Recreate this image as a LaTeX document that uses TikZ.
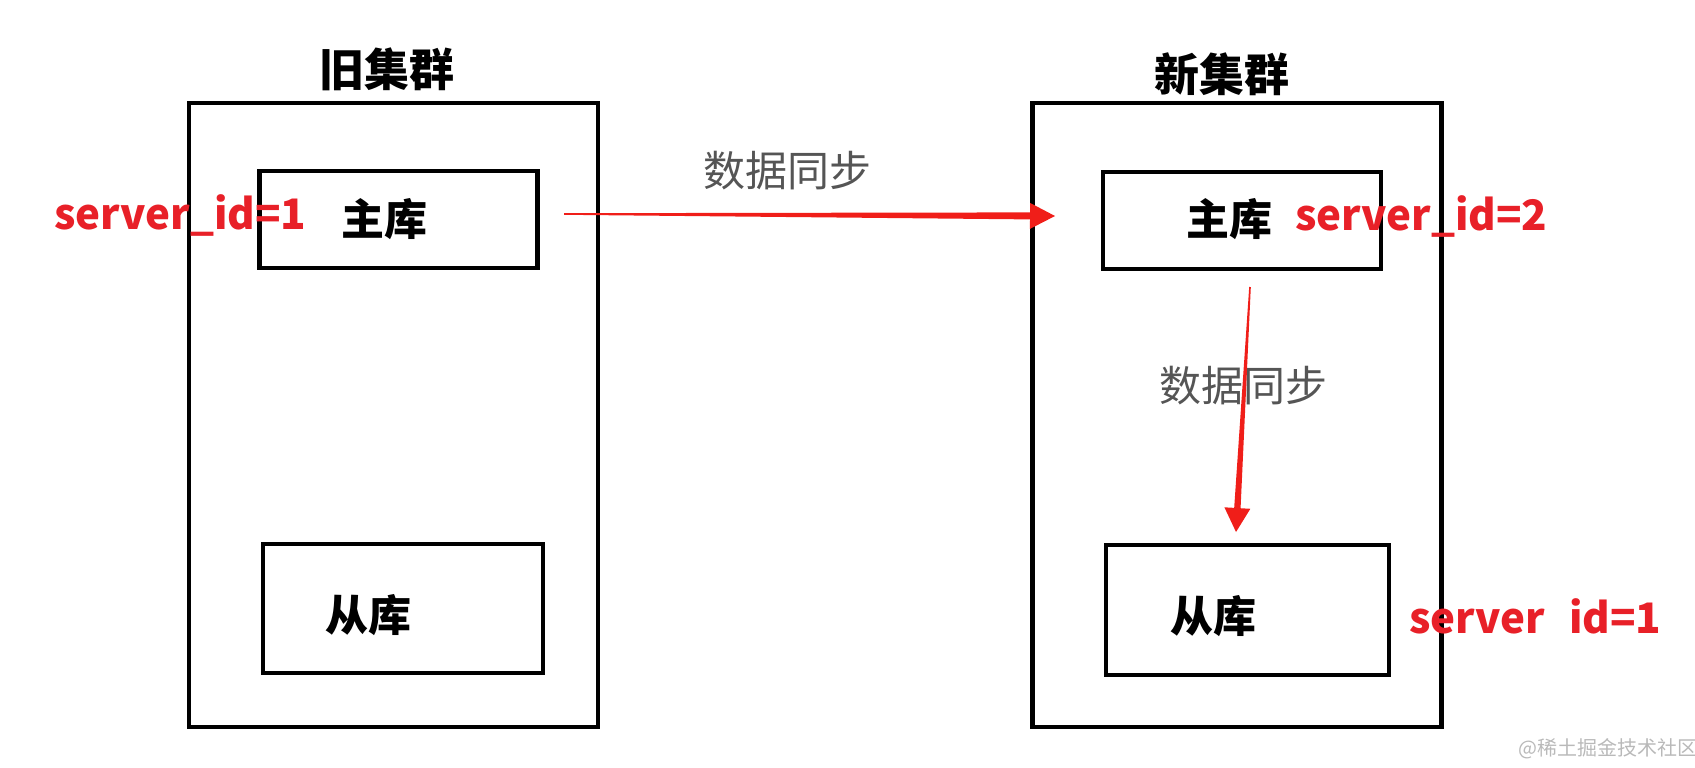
\documentclass[tikz,border=0pt]{standalone}
\usepackage{fontspec}
\setmainfont{Noto Sans CJK SC}
\usetikzlibrary{calc}
\definecolor{redtxt}{RGB}{232,32,40}
\definecolor{arrowred}{RGB}{240,30,25}
\definecolor{graytxt}{RGB}{85,85,85}
\definecolor{wmgray}{RGB}{185,185,185}
\newcommand\TaperArrow[5]{% tail, tip, head length, head half width, shaft half width
  \coordinate (tmpbase) at ($(#2)!#3!(#1)$);
  \fill[syncarrow] ($(#1)!0.4pt!90:(#2)$) -- ($(tmpbase)!#5!90:(#2)$)
    -- ($(tmpbase)!#4!90:(#2)$) -- (#2) -- ($(tmpbase)!#4!-90:(#2)$)
    -- ($(tmpbase)!#5!-90:(#2)$) -- ($(#1)!0.4pt!-90:(#2)$) -- cycle;
}
\begin{document}
\begin{tikzpicture}[x=0.5pt,y=-0.5pt,
  cluster/.style={draw=black,line width=2.3pt,minimum width=204.5pt,minimum height=312pt,inner sep=0pt},
  dbbox/.style={draw=black,line width=2.2pt,inner sep=0pt},
  title/.style={font=\fontsize{22.5pt}{24pt}\selectfont\bfseries,inner sep=0pt},
  dblabel/.style={font=\fontsize{21.5pt}{23pt}\selectfont\bfseries,inner sep=0pt},
  idlabel/.style={text=redtxt,font=\fontsize{21pt}{23pt}\selectfont\bfseries,inner sep=0pt,anchor=base west},
  synclabel/.style={text=graytxt,font=\fontsize{21pt}{23pt}\selectfont,inner sep=0pt},
  syncarrow/.style={fill=arrowred,draw=none},
]
\useasboundingbox (0,0) rectangle (1695,767);
% clusters
\node[cluster] (oldc) at (393.5,415) {};
\node[cluster] (newc) at (1237,415) {};
\node[title] (oldt) at (387,69) {旧集群};
\node[title] (newt) at (1222,74) {新集群};
% db boxes
\node[dbbox,minimum width=139pt,minimum height=48.5pt] (oldm) at (398.5,219.5) {};
\node[dbbox,minimum width=140pt,minimum height=64.5pt] (olds) at (403,608.5) {};
\node[dbbox,minimum width=139pt,minimum height=48.5pt] (newm) at (1242,220.5) {};
\node[dbbox,minimum width=141.5pt,minimum height=65pt] (news) at (1247.5,610) {};
\node[dblabel] (oldml) at (384,219) {主库};
\node[dblabel] (oldsl) at (368,615) {从库};
\node[dblabel] (newml) at (1229,219) {主库};
\node[dblabel] (newsl) at (1213,616) {从库};
% sync labels
\node[synclabel] (sync1) at (787,171) {数据同步};
\node[synclabel] (sync2) at (1243,386) {数据同步};
% arrows
\coordinate (h1) at (564,214);
\coordinate (h2) at (1055,216);
\coordinate (v1) at (1250,287);
\coordinate (v2) at (1236,532);
\TaperArrow{h1}{h2}{12.5pt}{6.5pt}{1.75pt}
\TaperArrow{v1}{v2}{12pt}{6.5pt}{1.6pt}
% server ids
\node[idlabel] (id1) at (54,229) {server\_id=1};
\node[idlabel] (id2) at (1295,230) {server\_id=2};
\node[idlabel] (id3) at (1409,633) {server\hphantom{\_}id=1};
% watermark
\node[text=wmgray,font=\fontsize{10pt}{12pt}\selectfont,inner sep=0pt] (wm) at (1608,749) {@稀土掘金技术社区};
\end{tikzpicture}
\end{document}
